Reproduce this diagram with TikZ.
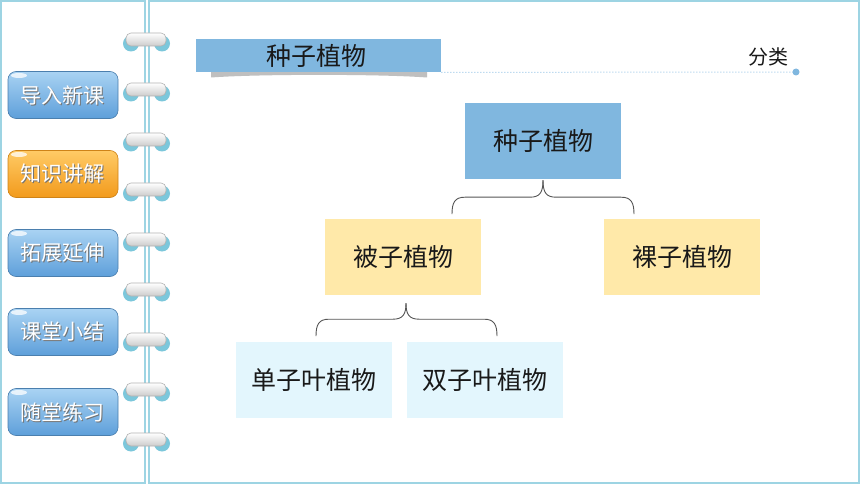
\documentclass[tikz,border=0pt]{standalone}
\usepackage{fontspec}
\setmainfont{Noto Sans CJK SC}
\usetikzlibrary{calc}
\definecolor{frameblue}{HTML}{9DD4E3}
\definecolor{topblue}{HTML}{80B7DF}
\definecolor{ylw}{HTML}{FFE9A9}
\definecolor{paleblue}{HTML}{E3F6FD}
\definecolor{ringblue}{HTML}{7CC7DB}
\definecolor{btntop}{HTML}{A9D3F3}
\definecolor{btnbot}{HTML}{5E9FDA}
\definecolor{orgtop}{HTML}{FFCB66}
\definecolor{orgbot}{HTML}{F29A1C}
\definecolor{bracegray}{HTML}{555555}
\definecolor{dotblue}{HTML}{9CC8E8}
\begin{document}
\begin{tikzpicture}[x=1pt,y=-1pt,
  box/.style={minimum width=156pt, minimum height=76pt, inner sep=0pt,
    font=\fontsize{25}{28}\selectfont, text=black!90},
  bracepath/.style={draw=bracegray, line width=0.9pt},
  framepen/.style={draw=frameblue, line width=1.5pt},
  btntext/.style={font=\fontsize{21}{24}\selectfont, text=white, inner sep=0pt},
  btnshadow/.style={font=\fontsize{21}{24}\selectfont, text=black!55, inner sep=0pt},
  bluebtn/.style={top color=btntop, bottom color=btnbot, draw=btnbot!80!black, line width=0.6pt, rounded corners=8pt},
  orangebtn/.style={top color=orgtop, bottom color=orgbot, draw=orgbot!85!black, line width=0.6pt, rounded corners=8pt},
  pill/.style={top color=white, bottom color=gray!40, draw=gray!60, line width=0.6pt, rounded corners=5pt},
]
% page
\fill[white] (0,0) rectangle (860,484);
\useasboundingbox (0,0) rectangle (860,484);

% frame
\draw[framepen] (1,1) rectangle (145,483);
\draw[framepen] (149,1) rectangle (859,483);

% rings
\foreach \k in {0,...,8}{
  \pgfmathsetmacro{\cy}{41+50*\k}
  \fill[ringblue] (131,\cy+2.5) circle (8);
  \fill[ringblue] (162,\cy+2.5) circle (8);
  \path[pill] (126,\cy-8) rectangle (166,\cy+5);
}

% buttons
\foreach \cy/\txt/\sty/\nm in {95/导入新课/bluebtn/b1,174/知识讲解/orangebtn/b2,253/拓展延伸/bluebtn/b3,332/课堂小结/bluebtn/b4,412/随堂练习/bluebtn/b5}{
  \path[\sty] (8,\cy-23.5) rectangle (118,\cy+23.5);
  \fill[white, opacity=0.75] (19,\cy-19.5) ellipse (8 and 2.5);
  \node[btnshadow] (\nm s) at (63,\cy+1) {\txt};
  \node[btntext] (\nm) at (62,\cy) {\txt};
}

% title bar
\fill[gray!50] (211,72) -- (427,72) -- (427,77.5) .. controls (380,74) and (258,74) .. (211,77.5) -- cycle;
\node[fill=topblue, minimum width=245pt, minimum height=33pt, inner sep=0pt, anchor=north west] (tb) at (196,39) {};
\node[font=\fontsize{25}{28}\selectfont, text=black!90, inner sep=0pt] (tbt) at (316,55.5) {种子植物};
\coordinate (dotend) at (796,72);
\draw[dotblue, line width=1pt, dotted] (tb.south east) -- (dotend);
\fill[topblue] (dotend) circle (3.5);
\node[font=\fontsize{20}{23}\selectfont, text=black!90, inner sep=0pt] (fl) at (768,57) {分类};

% diagram
\node[box, fill=topblue] (top) at (543,141) {种子植物};
\node[box, fill=ylw] (bz) at (403,256.5) {被子植物};
\node[box, fill=ylw] (lz) at (682,256.5) {裸子植物};
\node[box, fill=paleblue] (dz) at (314,380) {单子叶植物};
\node[box, fill=paleblue] (sz) at (485,380) {双子叶植物};

% braces
\draw[bracepath] ($(top.south)+(0,1)$) .. controls +(0,12) and +(10,0) .. ++(-13,17)
   -- ++(-65,0) .. controls +(-10,0) and +(0,-12) .. ++(-13,17);
\draw[bracepath] ($(top.south)+(0,1)$) .. controls +(0,12) and +(-10,0) .. ++(13,17)
   -- ++(65,0) .. controls +(10,0) and +(0,-12) .. ++(13,17);
\draw[bracepath] ($(bz.south)+(3,8.5)$) .. controls +(0,11) and +(10,0) .. ++(-13,16)
   -- ++(-64,0) .. controls +(-10,0) and +(0,-12) .. ++(-13,17);
\draw[bracepath] ($(bz.south)+(3,8.5)$) .. controls +(0,11) and +(-10,0) .. ++(13,16)
   -- ++(65,0) .. controls +(10,0) and +(0,-12) .. ++(13,17);
\end{tikzpicture}
\end{document}
